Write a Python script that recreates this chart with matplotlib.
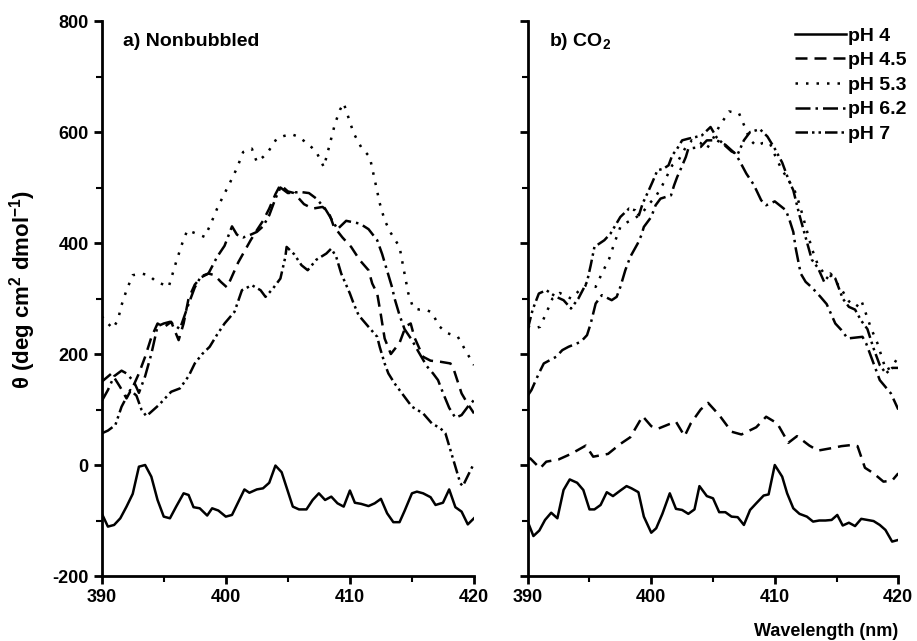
"""CD spectra, nonbubbled vs CO2, two panels -> out.png"""
import matplotlib
matplotlib.use("Agg")
import matplotlib.pyplot as plt
from matplotlib.ticker import MultipleLocator

plt.rcParams['font.family'] = ['Liberation Sans', 'DejaVu Sans']
plt.rcParams['font.weight'] = 'bold'
plt.rcParams['axes.unicode_minus'] = False
plt.rcParams['mathtext.fontset'] = 'custom'
plt.rcParams['mathtext.rm'] = 'Liberation Sans:bold'
plt.rcParams['mathtext.it'] = 'Liberation Sans:bold'
plt.rcParams['mathtext.bf'] = 'Liberation Sans:bold'

labels = ['pH 4', 'pH 4.5', 'pH 5.3', 'pH 6.2', 'pH 7']

# ----- a) nonbubbled
a_ph4_x = [390, 390.5, 391, 391.5, 392, 392.5, 393, 393.5, 394, 394.5, 395, 395.5, 396, 396.6, 397,
           397.4, 397.9, 398.5, 398.9, 399.4, 400, 400.5, 401.5, 401.9, 402.5, 403, 403.5, 404, 404.5,
           405.4, 405.9, 406.5, 407, 407.5, 408, 408.5, 409, 409.5, 410, 410.4, 410.9, 411.5, 412,
           412.5, 413, 413.5, 414, 414.4, 415, 415.4, 415.9, 416.5, 416.9, 417.5, 418, 418.5, 419,
           419.5, 420]
a_ph4_y = [-87, -111, -108, -96, -75, -52, -3, 0, -21, -63, -93, -96, -75, -51, -54,
           -76, -78, -91, -78, -82, -93, -90, -44, -50, -44, -42, -32, -1, -13,
           -75, -80, -80, -63, -51, -63, -57, -69, -75, -46, -68, -70, -74, -69,
           -61, -87, -103, -103, -83, -51, -48, -51, -58, -72, -68, -44, -76, -84,
           -107, -96]

a_ph45_x = [390, 390.8, 391.5, 392, 392.6, 393, 393.5, 394, 394.5, 395, 395.6, 396.2, 396.6, 397,
            397.5, 398, 398.6, 399.1, 399.6, 400.1, 400.6, 401, 401.5, 402, 402.5, 403, 403.5, 404,
            404.4, 405, 405.5, 406.3, 407, 407.8, 408.3, 408.7, 409.4, 410.1, 410.8, 411.5, 411.8,
            412.2, 412.5, 412.8, 413.3, 414, 414.5, 414.9, 415.2, 415.9, 416.5, 417.3, 418.1, 418.4,
            419, 419.5, 420]
a_ph45_y = [150, 165, 140, 120, 145, 165, 195, 230, 255, 248, 258, 225, 255, 300,
            325, 338, 345, 342, 330, 320, 345, 365, 385, 405, 423, 440, 462, 488,
            505, 493, 490, 470, 462, 465, 455, 430, 410, 393, 369, 351, 327,
            309, 270, 228, 200, 220, 250, 255, 230, 195, 188, 186, 183, 170,
            129, 110, 93]

a_ph53_x = [390, 390.5, 390.9, 391.3, 391.6, 392, 392.5, 393.2, 393.8, 394.4, 395, 395.4, 396, 396.5,
            396.9, 397.5, 398.3, 398.8, 399.3, 399.8, 400.3, 400.9, 401.4, 402.1, 402.5, 403, 403.4,
            404.1, 404.7, 405.3, 405.8, 406.3, 406.8, 407.3, 407.9, 408.4, 408.8, 409.2, 409.5, 409.9,
            410.3, 410.9, 411.6, 412, 412.4, 412.8, 413.3, 414, 414.3, 414.7, 415.1, 415.6, 416.2,
            416.6, 417.2, 417.8, 418.7, 419.3, 420]
a_ph53_y = [268, 255, 246, 261, 288, 315, 342, 345, 342, 330, 325, 321, 366, 400,
            423, 418, 411, 435, 462, 485, 507, 535, 564, 570, 546, 555, 564,
            588, 593, 596, 592, 584, 575, 564, 537, 580, 615, 640, 652, 625,
            598, 573, 555, 514, 472, 441, 418, 393, 357, 310, 283, 280, 279,
            275, 250, 238, 231, 207, 180]

a_ph62_x = [390, 390.5, 391, 391.6, 392, 392.6, 393, 393.5, 394, 394.5, 395, 395.5, 396.3, 397,
            397.5, 398, 398.6, 399.3, 399.9, 400.5, 400.9, 401.4, 402, 402.5, 403, 403.5, 404,
            404.4, 405, 406, 406.7, 407.3, 408, 408.6, 409, 409.7, 410.8, 411.5, 412.2, 412.6, 413,
            413.4, 413.6, 414, 414.4, 415, 415.5, 416.2, 416.7, 417.1, 417.5, 418, 418.5, 419,
            419.5, 420]
a_ph62_y = [115, 135, 160, 170, 165, 150, 130, 160, 200, 250, 255, 258, 245, 290,
            320, 340, 345, 375, 395, 430, 415, 410, 415, 420, 430, 450, 480,
            500, 490, 492, 490, 480, 462, 440, 425, 440, 435, 425, 405, 380, 350,
            320, 300, 270, 245, 225, 205, 178, 165, 153, 130, 103, 85, 90,
            105, 117]

a_ph7_x = [390, 390.5, 391.1, 391.6, 392.3, 392.8, 393.2, 393.6, 394.2, 394.6, 395.6, 396.3, 397,
           397.5, 398.1, 398.7, 399.3, 399.9, 400.7, 401.3, 402.1, 402.8, 403.2, 403.8, 404.4,
           404.8, 404.9, 405.5, 406.1, 406.6, 407.3, 408.1, 408.5, 408.9, 409.3, 410, 410.3, 410.7,
           411.5, 412.2, 412.4, 412.8, 413.1, 413.6, 414.4, 415, 415.9, 416.6, 417.3, 417.7, 418.1,
           418.5, 418.9, 419.1, 419.6, 420]
a_ph7_y = [57, 62, 72, 105, 135, 125, 100, 88, 100, 108, 132, 138, 160,
           183, 200, 213, 235, 255, 276, 315, 324, 315, 303, 318, 336,
           375, 393, 380, 360, 351, 370, 381, 390, 375, 345, 309, 291, 270,
           249, 231, 213, 183, 165, 147, 123, 105, 93, 75, 66, 57, 27,
           -3, -33, -38, -15, 3]

# ----- b) CO2
b_ph4_x = [390, 390.46, 390.94, 391.4, 391.9, 392.4, 392.9, 393.4, 394, 394.5, 395, 395.4, 395.9,
           396.4, 396.9, 397.5, 398, 398.4, 398.96, 399.4, 400, 400.4, 400.9, 401.5, 402, 402.5,
           403, 403.5, 403.9, 404.5, 405, 405.5, 406, 406.5, 407, 407.5, 408, 408.5, 409.1, 409.5,
           410, 410.6, 411, 411.5, 412, 412.6, 413.1, 413.6, 414.1, 414.6, 415.06, 415.5, 416,
           416.5, 417, 417.5, 418, 418.5, 418.96, 419.5, 420]
b_ph4_y = [-102, -128, -118, -99, -86, -96, -45, -26, -32, -45, -80, -80, -72,
           -49, -56, -46, -38, -42, -49, -93, -122, -114, -88, -51, -79, -81,
           -88, -80, -38, -56, -60, -85, -85, -93, -94, -108, -81, -69, -55, -53,
           0, -21, -51, -78, -88, -93, -102, -100, -100, -99, -90, -109, -104,
           -110, -97, -99, -101, -108, -117, -138, -135]

b_ph45_x = [390, 390.2, 391, 391.5, 392.5, 393.5, 394.7, 395.3, 396.5, 397.5, 398.3, 399.3, 400,
            400.5, 401.5, 402, 402.7, 403.2, 404, 404.6, 405.5, 406.5, 407.3, 408.5, 409.3, 410.2,
            411.1, 411.8, 412.8, 413.5, 414.5, 415.4, 416.2, 416.7, 417.3, 418, 418.8, 419.5, 420]
b_ph45_y = [10, 12, -6, 6, 10, 20, 35, 15, 20, 38, 50, 88, 70,
            65, 74, 78, 52, 75, 100, 112, 90, 60, 55, 68, 87, 75,
            40, 52, 35, 26, 30, 34, 36, 34, -5, -15, -30, -28, -15]

b_ph53_x = [390, 390.5, 391, 391.6, 392, 392.6, 393.5, 394.2, 394.7, 395.5, 396, 396.6, 397,
            397.5, 398.1, 398.7, 399.3, 399.8, 400.35, 400.9, 401.7, 402.2, 402.5, 402.8, 403.3,
            404, 404.5, 405, 405.5, 406.3, 407.1, 407.5, 408, 408.5, 409, 409.6, 410, 410.5, 411.2,
            411.6, 412, 412.5, 413, 413.5, 414, 414.6, 415.3, 416, 416.6, 417, 417.8, 418.3, 419,
            419.5, 420]
b_ph53_y = [250, 246, 249, 279, 300, 310, 300, 315, 324, 321, 345, 372, 399,
            429, 438, 445, 455, 470, 483, 504, 540, 549, 561, 573, 585,
            580, 570, 588, 610, 637, 634, 613, 586, 575, 580, 580, 559, 535, 510,
            495, 470, 430, 390, 360, 345, 340, 320, 295, 285, 297, 246, 220, 171,
            177, 195]

b_ph62_x = [390, 390.3, 390.9, 391.3, 392.3, 392.8, 393.3, 394.3, 394.8, 395.1, 395.5, 396, 396.8,
            397.2, 397.5, 397.9, 398.3, 398.9, 399.2, 399.4, 400, 400.35, 400.75, 401.6, 401.85,
            402.1, 402.4, 402.8, 403, 404, 404.5, 405.3, 406, 406.8, 407.1, 407.7, 408.3, 408.9,
            409.3, 410, 410.9, 411.2, 411.5, 411.7, 412.1, 412.5, 413, 413.7, 414.2, 414.9, 415.4,
            415.9, 417.1, 417.4, 417.9, 418.5, 419.4, 420]
b_ph62_y = [125, 135, 165, 183, 195, 207, 213, 222, 234, 255, 291, 306, 297,
            303, 321, 351, 375, 399, 414, 429, 447, 468, 480, 486, 504,
            519, 534, 555, 570, 573, 585, 585, 577, 561, 550, 525, 505, 477,
            468, 475, 459, 441, 420, 390, 345, 330, 320, 303, 290, 255, 243,
            228, 231, 219, 189, 153, 129, 100]

b_ph7_x = [390, 390.4, 390.9, 391.5, 392.3, 392.9, 393.5, 394.1, 394.8, 395.1, 395.4, 396.2, 396.7,
           397.1, 397.5, 398.2, 398.7, 399, 399.3, 399.8, 400.1, 400.5, 401, 401.4, 401.7, 402.1,
           402.5, 403, 403.6, 404.1, 404.8, 405.3, 406, 406.5, 407, 407.5, 408, 408.8, 409.4, 410,
           410.6, 411.1, 411.5, 412, 412.5, 413, 413.5, 414, 414.5, 414.9, 415.5, 416, 416.5, 417,
           417.5, 418, 418.5, 419, 419.5, 420]
b_ph7_y = [245, 280, 309, 315, 303, 297, 282, 300, 330, 360, 393, 405, 417,
           432, 447, 462, 459, 450, 471, 495, 510, 531, 534, 540, 558, 570,
           585, 588, 591, 594, 609, 590, 575, 565, 560, 585, 600, 605, 592, 570,
           545, 515, 495, 450, 410, 370, 355, 330, 345, 336, 300, 285, 280, 260,
           245, 210, 180, 165, 175, 175]

# dash patterns, in units of line width
styles = ['-', (0, (4.8, 2.8)), (0, (1, 3.2)), (0, (6, 2, 1, 2)), (0, (5, 1.6, 1, 1.6, 1, 1.6))]


def panel(ax, series, title):
    for (x, y), ls, lab in zip(series, styles, labels):
        ax.plot(x, y, color='black', linestyle=ls, linewidth=1.8, label=lab)
    ax.set_xlim(390, 420)
    ax.set_ylim(-200, 800)
    ax.xaxis.set_major_locator(MultipleLocator(10))
    ax.xaxis.set_minor_locator(MultipleLocator(5))
    ax.yaxis.set_major_locator(MultipleLocator(200))
    ax.yaxis.set_minor_locator(MultipleLocator(100))
    for side in ['top', 'right']:
        ax.spines[side].set_visible(False)
    for side in ['left', 'bottom']:
        ax.spines[side].set_linewidth(2)
    ax.tick_params(which='major', direction='out', length=6, width=2, labelsize=13)
    ax.tick_params(which='minor', direction='out', length=4, width=1.5)
    ax.text(0.058, 0.955, title, transform=ax.transAxes, fontsize=14, fontweight='bold',
            va='baseline', ha='left')


fig = plt.figure(figsize=(9.17, 6.41), dpi=100)
ax1 = fig.add_axes([0.1109, 0.1014, 0.406, 0.8658])
ax2 = fig.add_axes([0.5755, 0.1014, 0.4041, 0.8658])

panel(ax1, [(a_ph4_x, a_ph4_y), (a_ph45_x, a_ph45_y), (a_ph53_x, a_ph53_y),
            (a_ph62_x, a_ph62_y), (a_ph7_x, a_ph7_y)], 'a) Nonbubbled')
panel(ax2, [(b_ph4_x, b_ph4_y), (b_ph45_x, b_ph45_y), (b_ph53_x, b_ph53_y),
            (b_ph62_x, b_ph62_y), (b_ph7_x, b_ph7_y)], 'b) CO$_2$')
ax2.tick_params(axis='y', labelleft=False)

ax1.set_ylabel('θ (deg cm$^{2}$ dmol$^{-1}$)', fontsize=16, fontweight='bold')
ax1.yaxis.set_label_coords(-0.17, 0.517)
fig.text(898 / 917, 1 - 632 / 641, 'Wavelength (nm)', fontsize=13, fontweight='bold',
         ha='right', va='center')

ax2.legend(loc='upper left', bbox_to_anchor=(795 / 917, 0.958), bbox_transform=fig.transFigure,
           frameon=False, fontsize=14, handlelength=2.6, handletextpad=0.15,
           labelspacing=0.36, borderpad=0, borderaxespad=0)

fig.savefig('out.png', dpi=100)
